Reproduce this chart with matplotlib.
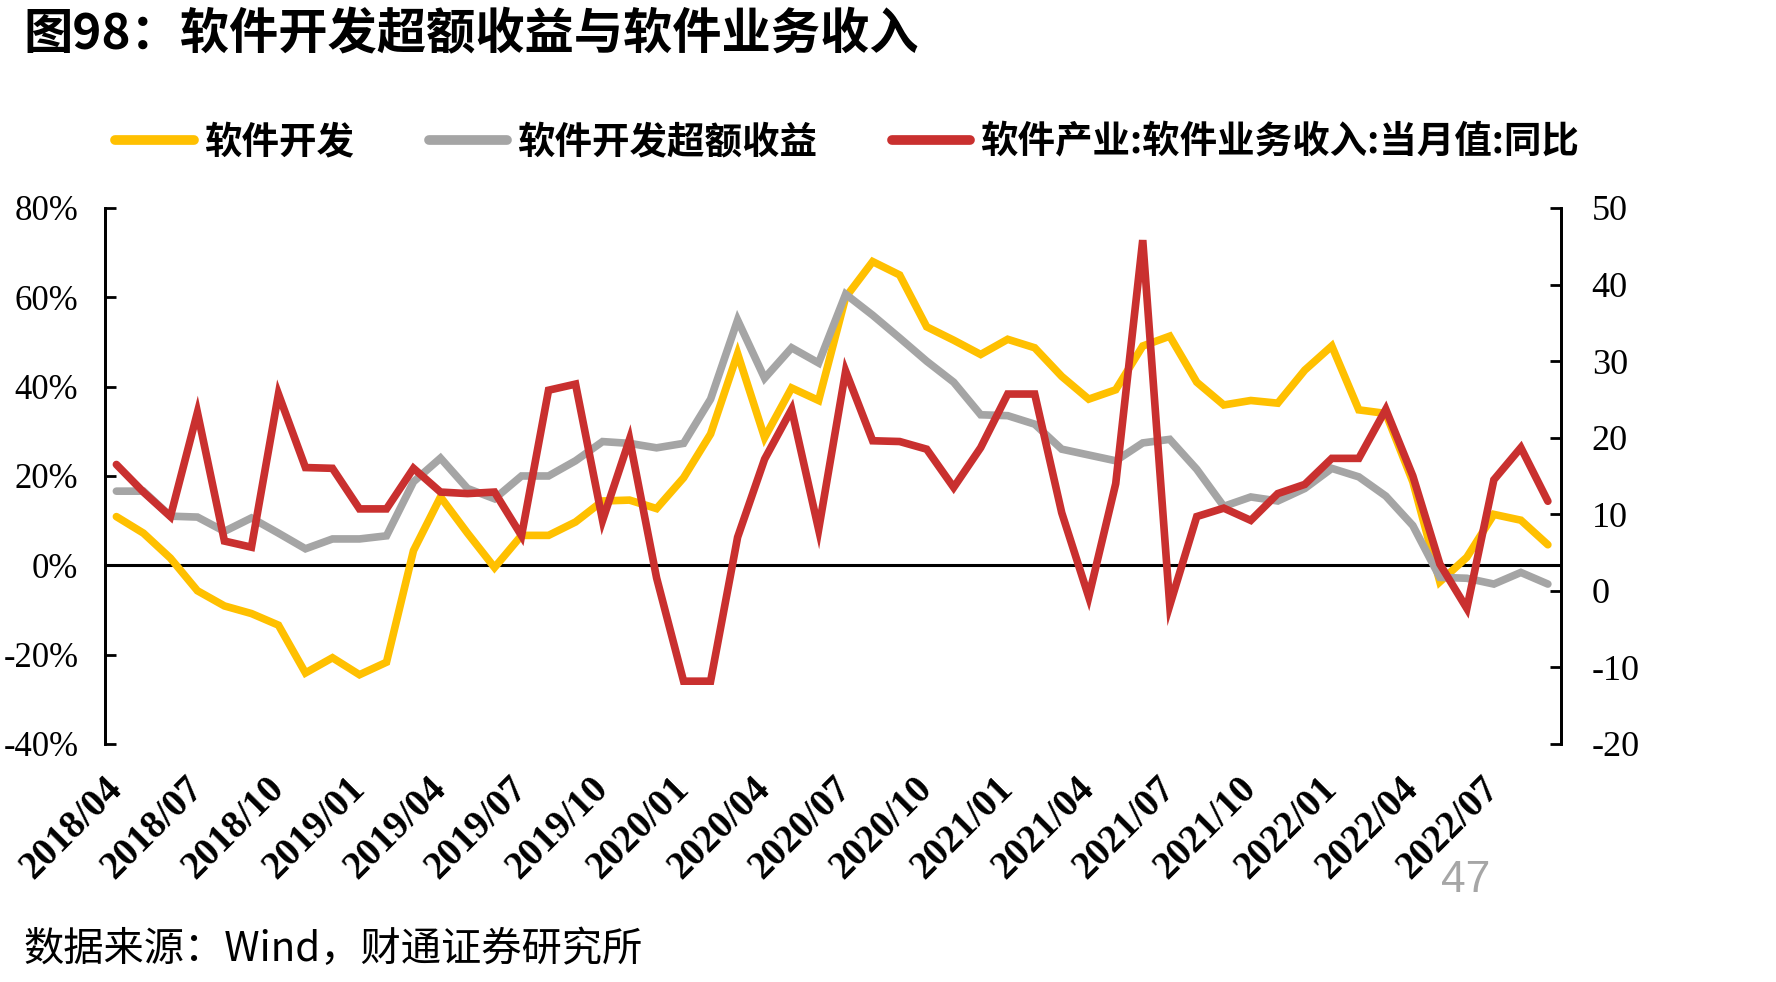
import matplotlib
matplotlib.use("Agg")
import matplotlib.pyplot as plt
from matplotlib.lines import Line2D
import numpy as np
import pandas as pd

plt.rcParams['font.family'] = ['Liberation Serif', 'Noto Sans CJK SC', 'DejaVu Sans']
plt.rcParams['axes.unicode_minus'] = False

# monthly data 2018/04 - 2022/09
months = pd.date_range('2018-04-01', '2022-09-01', freq='MS').strftime('%Y/%m').tolist()

# 软件开发 (%)
soft_dev = [10.9, 7.2, 1.6, -5.7, -9.1, -10.8, -13.4, -24.1, -20.7, -24.5, -21.7, 3.3,
            15.3, 7.2, -0.5, 6.7, 6.7, 9.7, 14.4, 14.6, 12.7, 19.6, 29.4, 47.4,
            28.6, 39.7, 36.9, 60.0, 68.0, 65.0, 53.4, 50.4, 47.2, 50.6, 48.7, 42.3,
            37.2, 39.3, 49.1, 51.3, 41.0, 35.9, 36.9, 36.3, 43.7, 49.1, 34.8, 34.0,
            18.7, -3.7, 1.8, 11.4, 10.1, 4.6]

# 软件开发超额收益 (%)
excess = [16.6, 16.6, 11.0, 10.8, 7.6, 10.6, 7.2, 3.7, 5.9, 5.9, 6.6, 18.7,
          24.0, 17.2, 14.9, 20.0, 20.0, 23.4, 27.7, 27.3, 26.3, 27.3, 37.2, 54.9,
          41.9, 48.7, 45.3, 60.7, 56.0, 50.9, 45.7, 41.0, 33.7, 33.5, 31.6, 26.0,
          24.7, 23.4, 27.4, 28.2, 21.5, 13.2, 15.3, 14.4, 17.2, 21.7, 19.8, 15.5,
          8.9, -2.7, -2.9, -4.2, -1.6, -4.2]

# 软件产业:软件业务收入:当月值:同比 (right axis)
revenue = [16.5, 12.9, 9.7, 23.3, 6.5, 5.7, 25.7, 16.1, 16.0, 10.7, 10.7, 16.0,
           12.9, 12.7, 12.9, 7.2, 26.2, 27.0, 9.2, 19.8, 1.7, -11.8, -11.8, 7.0,
           17.2, 23.7, 8.0, 28.7, 19.6, 19.5, 18.5, 13.5, 18.7, 25.7, 25.7, 10.2,
           -0.8, 14.0, 45.8, -1.9, 9.7, 10.8, 9.2, 12.7, 13.9, 17.3, 17.3, 23.7,
           15.0, 3.5, -2.3, 14.5, 18.7, 11.7]

labels = ['软件开发', '软件开发超额收益', '软件产业:软件业务收入:当月值:同比']
colors = ['#FFC000', '#A5A5A5', '#C9302F']

x = np.arange(len(months))

fig = plt.figure(figsize=(17.76, 9.82), dpi=100)
ax = fig.add_axes([0.059, 0.2424, 0.82, 0.5458])
ax2 = ax.twinx()

ax.plot(x, soft_dev, color=colors[0], lw=5.5, solid_joinstyle='miter', solid_capstyle='round')
ax.plot(x, excess, color=colors[1], lw=5.5, solid_joinstyle='miter', solid_capstyle='round')
ax2.plot(x, revenue, color=colors[2], lw=5.5, solid_joinstyle='miter', solid_capstyle='round')
ax.axhline(0, color='black', lw=2.2, zorder=1)

ax.set_xlim(-0.43, len(x) - 0.51)
ax.set_ylim(-40, 80)
ax.set_yticks(np.arange(-40, 81, 20))
ax.set_yticklabels([f'{v}%' for v in range(-40, 81, 20)])
ax2.set_ylim(-20, 50)
ax2.set_yticks(np.arange(-20, 51, 10))

ax.set_xticks(x[::3])
ax.set_xticklabels(months[::3], rotation=45, ha='right', va='center',
                   rotation_mode='anchor', fontsize=28, fontweight='bold')
ax.tick_params(axis='x', length=0, pad=28)
ax.tick_params(axis='y', direction='in', length=8, width=2, labelsize=25, pad=19)
ax2.tick_params(axis='y', direction='in', length=8, width=2, labelsize=26, pad=22)

for a in (ax, ax2):
    a.spines['top'].set_visible(False)
    a.spines['bottom'].set_visible(False)
    a.spines['left'].set_linewidth(2)
    a.spines['right'].set_linewidth(2)
    a.patch.set_visible(False)

# legend
handles = [Line2D([0], [0], color=c, lw=7, solid_capstyle='round') for c in colors]
fig.legend(handles, labels, loc='center left', bbox_to_anchor=(0.046, 0.856), ncol=3,
           frameon=False, handlelength=2.1, handletextpad=0.25, columnspacing=2.0,
           prop={'family': 'Noto Sans CJK SC', 'weight': 'bold', 'size': 27})

fig.text(0.013, 0.965, '图98：软件开发超额收益与软件业务收入', fontsize=35.5, fontweight='bold',
         family=['Noto Sans CJK SC', 'DejaVu Sans'], ha='left', va='center')
fig.text(0.013, 0.033, '数据来源：Wind，财通证券研究所', fontsize=29,
         family=['Noto Sans CJK SC', 'DejaVu Sans'], ha='left', va='center')
fig.text(0.825, 0.103, '47', fontsize=32, color='#A6A6A6', family='Liberation Sans',
         ha='center', va='center')

fig.savefig('out.png', dpi=100)
